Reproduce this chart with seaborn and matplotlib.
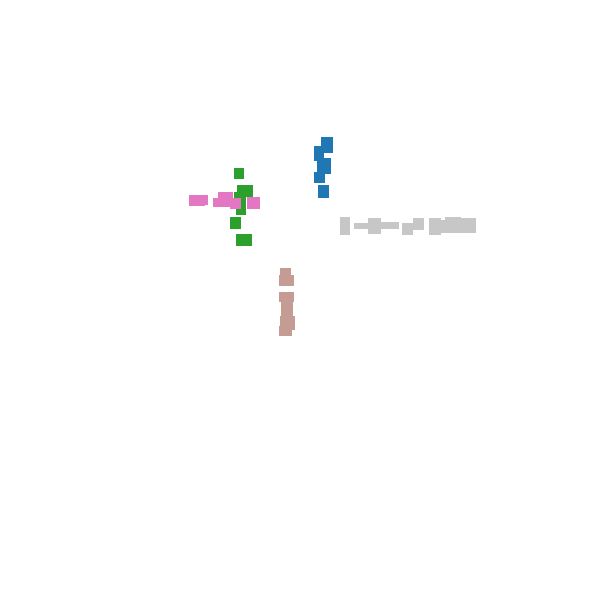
import matplotlib
matplotlib.use('Agg')
import matplotlib.pyplot as plt
import seaborn as sns

# 每个矩形: 中心x, 中心y, 宽, 高 (按图上像素读数)
blue_x = [327, 319, 324, 319.5, 323.5]
blue_y = [145, 153.5, 166, 177.5, 191.5]
blue_w = [12, 10, 14, 11, 11]
blue_h = [16, 15, 16, 11, 13]

green_x = [239, 245, 238, 241, 235.5, 244]
green_y = [173.5, 191, 196, 205.5, 223, 240]
green_w = [10, 16, 8, 10, 11, 16]
green_h = [11, 12, 8, 19, 12, 12]

pink_x = [197, 200, 225.5, 221.5, 235.5, 253.5]
pink_y = [200.5, 200, 199, 202.5, 203.5, 203]
pink_w = [16, 16, 15, 17, 11, 13]
pink_h = [11, 10, 14, 9, 11, 12]

gray_x = [345, 361, 374.5, 390, 407.5, 418.5, 435, 443, 453, 468]
gray_y = [226, 226, 226, 225, 229, 224, 226.5, 226.5, 225, 225.5]
gray_w = [10, 14, 13, 18, 11, 11, 12, 6, 16, 16]
gray_h = [18, 6, 16, 7, 12, 12, 17, 13, 16, 15]

brown_x = [285.5, 286.5, 286.5, 287, 287.5, 285.5]
brown_y = [272, 280.5, 297, 309, 323, 331]
brown_w = [11, 15, 15, 12, 15, 13]
brown_h = [8, 11, 10, 14, 14, 10]

sns.set_theme(style='white')
pal = sns.color_palette('tab20')

fig = plt.figure(figsize=(6, 6), dpi=100)
ax = fig.add_axes([0, 0, 1, 1])


def drawRects(xs, ys, ws, hs, color):
    bottoms = [y - h / 2 for y, h in zip(ys, hs)]
    ax.bar(xs, hs, width=ws, bottom=bottoms, color=color, linewidth=0)


drawRects(blue_x, blue_y, blue_w, blue_h, pal[0])
drawRects(green_x, green_y, green_w, green_h, pal[4])
drawRects(pink_x, pink_y, pink_w, pink_h, pal[12])
drawRects(gray_x, gray_y, gray_w, gray_h, pal[15])
drawRects(brown_x, brown_y, brown_w, brown_h, pal[11])

ax.set_xlim(0, 600)
ax.set_ylim(600, 0)
ax.axis('off')
fig.savefig('out.png', dpi=100, facecolor='white')
